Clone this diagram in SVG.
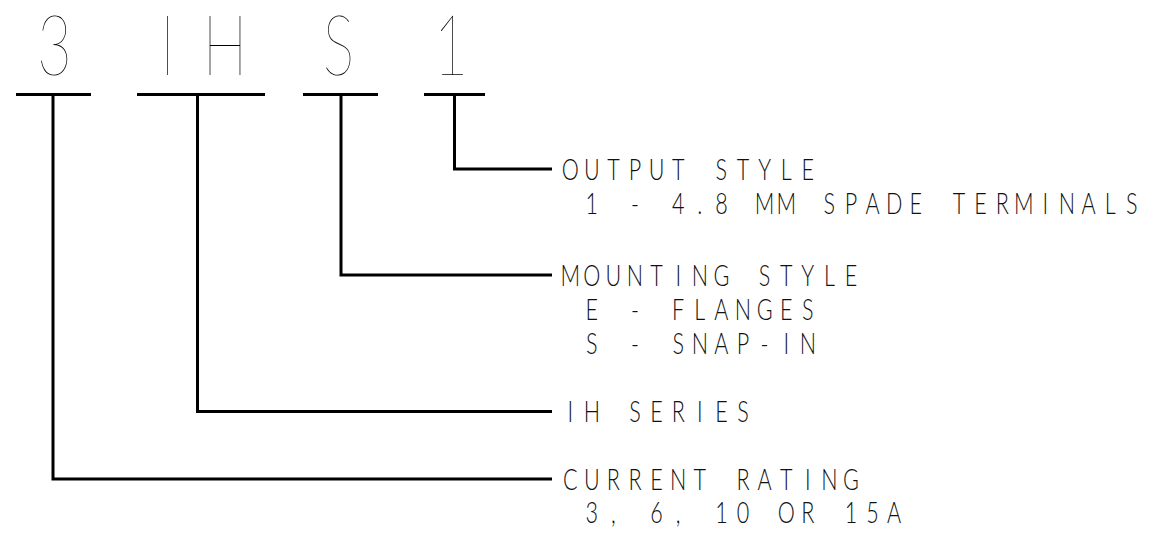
<svg xmlns="http://www.w3.org/2000/svg" width="1160" height="540" viewBox="0 0 1160 540">
  <style>
    .big { font-family: Lato, Roboto, Inter, "DejaVu Sans", sans-serif; font-weight: 100; font-size: 85px; fill: #000; text-anchor: middle; }
    .lbl { font-family: Lato, Roboto, Inter, "DejaVu Sans", sans-serif; font-weight: 300; font-size: 30px; fill: #111; text-anchor: middle; }
    .ul { stroke: #000; stroke-width: 3; fill: none; }
    .conn { stroke: #000; stroke-width: 3; fill: none; stroke-linejoin: miter; stroke-linecap: butt; }
  </style>
  <rect x="0" y="0" width="1160" height="540" fill="#fff"/>

  <g id="node-3">
    <text class="big" transform="translate(54.5,75) scale(0.7,1)">3</text>
    <line class="ul" x1="16" y1="94.5" x2="91" y2="94.5"/>
  </g>
  <g id="node-IH">
    <text class="big" transform="translate(0,75) scale(0.7,1)" x="239.3 321.4">IH</text>
    <line class="ul" x1="137" y1="94.5" x2="265" y2="94.5"/>
  </g>
  <g id="node-S">
    <text class="big" transform="translate(338.5,75) scale(0.7,1)">S</text>
    <line class="ul" x1="303" y1="94.5" x2="378" y2="94.5"/>
  </g>
  <g id="node-1">
    <text class="big" transform="translate(451,75) scale(0.7,1)">1</text>
    <line class="ul" x1="424" y1="94.5" x2="485" y2="94.5"/>
  </g>

  <g id="connectors">
    <polyline class="conn" points="454.5,94.5 454.5,169 552,169"/>
    <polyline class="conn" points="341,94.5 341,275 552,275"/>
    <polyline class="conn" points="197.5,94.5 197.5,411.5 552,411.5"/>
    <polyline class="conn" points="53,94.5 53,479 552,479"/>
  </g>

  <g id="label-output-style">
    <text class="lbl" transform="translate(563,179.5) scale(0.72,1)" x="10 40 70 100 130 160 190 220 250 280 310 340">OUTPUT STYLE</text>
    <text class="lbl" transform="translate(563,213.5) scale(0.72,1)" x="40 70 100 130 160 190 220 250 280 310 340 370 400 430 460 490 520 550 580 610 640 670 700 730 760 790">1 - 4.8 MM SPADE TERMINALS</text>
  </g>
  <g id="label-mounting-style">
    <text class="lbl" transform="translate(563,285.5) scale(0.72,1)" x="10 40 70 100 130 160 190 220 250 280 310 340 370 400">MOUNTING STYLE</text>
    <text class="lbl" transform="translate(563,319.5) scale(0.72,1)" x="40 70 100 130 160 190 220 250 280 310 340">E - FLANGES</text>
    <text class="lbl" transform="translate(563,353.5) scale(0.72,1)" x="40 70 100 130 160 190 220 250 280 310 340">S - SNAP-IN</text>
  </g>
  <g id="label-series">
    <text class="lbl" transform="translate(563,422) scale(0.72,1)" x="10 40 70 100 130 160 190 220 250">IH SERIES</text>
  </g>
  <g id="label-current-rating">
    <text class="lbl" transform="translate(563,489.5) scale(0.72,1)" x="10 40 70 100 130 160 190 220 250 280 310 340 370 400">CURRENT RATING</text>
    <text class="lbl" transform="translate(563,523) scale(0.72,1)" x="40 70 100 130 160 190 220 250 280 310 340 370 400 430 460">3, 6, 10 OR 15A</text>
  </g>
</svg>
